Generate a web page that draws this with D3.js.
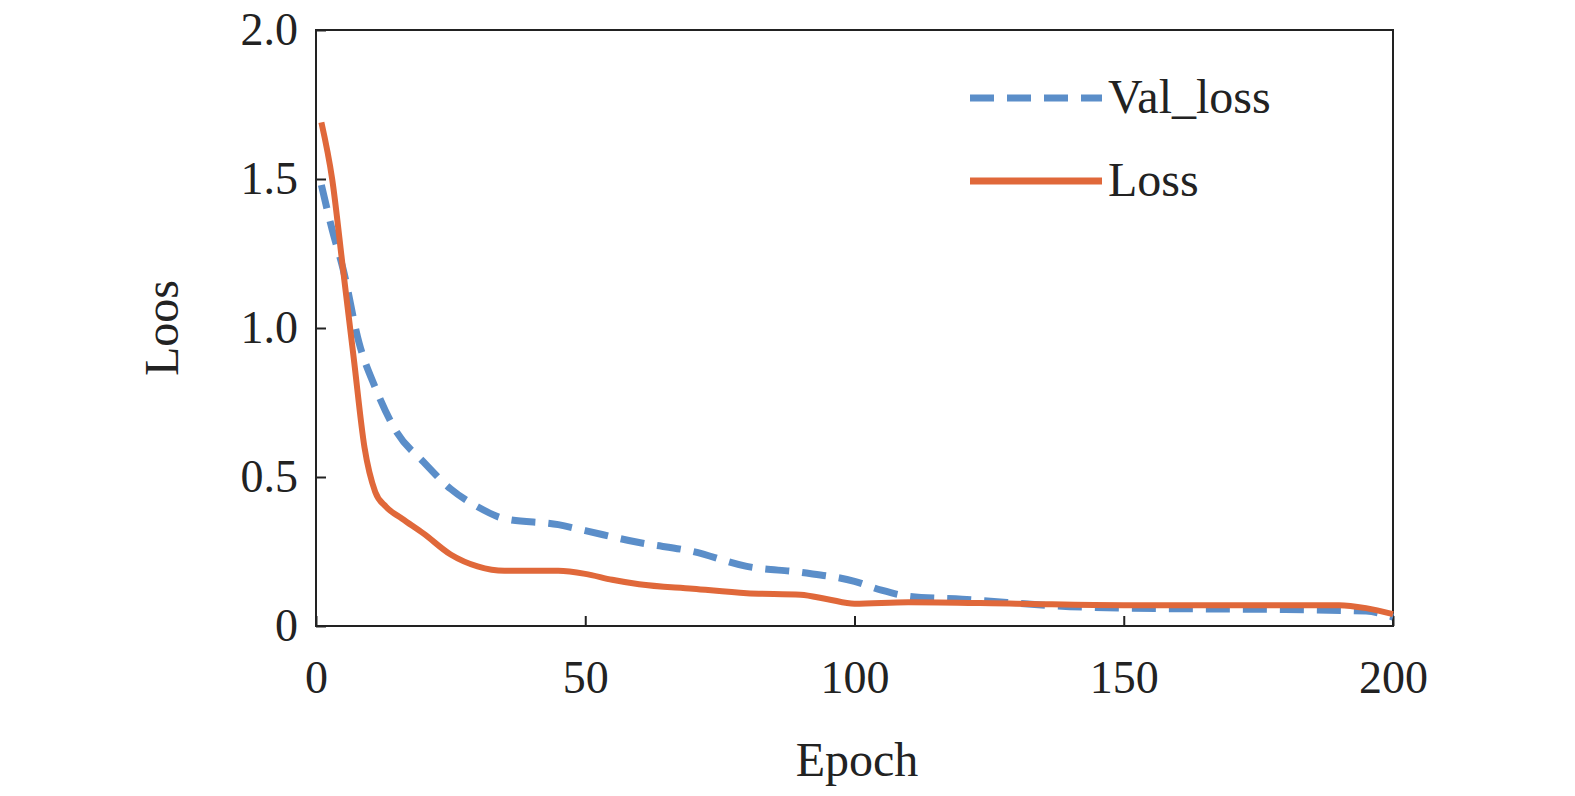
<!DOCTYPE html>
<html><head><meta charset="utf-8">
<script src="https://cdn.jsdelivr.net/npm/d3@7"></script>
<style>body{margin:0;background:#fff}text{font-family:"Liberation Serif",serif;fill:#222}</style>
</head><body><svg id="c" width="1575" height="796"></svg>
<script>
var lossEpoch = [1,3,5,7,9,11,13,16,20,25,30,35,45,50,55,60,70,80,90,95,100,110,130,150,190,195,200];
var lossVal   = [1.69,1.5,1.2,0.9,0.6,0.45,0.4,0.36,0.31,0.24,0.2,0.185,0.185,0.175,0.155,0.14,0.125,0.11,0.105,0.09,0.075,0.08,0.075,0.07,0.07,0.06,0.04];
var valEpoch  = [1,3,5,8,11,15,20,25,30,35,45,50,60,70,80,90,100,105,110,120,140,150,180,195,200];
var valLoss   = [1.48,1.33,1.2,0.95,0.8,0.65,0.55,0.46,0.4,0.36,0.34,0.32,0.28,0.25,0.2,0.18,0.15,0.12,0.1,0.09,0.065,0.06,0.055,0.05,0.03];
var xTicks = [0,50,100,150,200];
var yTicks = [0,0.5,1.0,1.5,2.0];
var yLabels = ["0","0.5","1.0","1.5","2.0"];

var svg = d3.select("#c");
var x = d3.scaleLinear().domain([0,200]).range([316,1393]);
var y = d3.scaleLinear().domain([0,2]).range([626,30]);

svg.append("rect").attr("x",316).attr("y",30).attr("width",1077).attr("height",596)
  .attr("fill","none").attr("stroke","#222").attr("stroke-width",2);

svg.append("g").attr("transform","translate(0,626)")
  .call(d3.axisBottom(x).tickValues(xTicks).tickSize(-10).tickPadding(34).tickFormat(d3.format("d")))
  .call(g=>{g.select(".domain").remove();g.selectAll("line").attr("stroke","#222").attr("stroke-width",2);
    g.selectAll("text").style("font-size","46px").style("font-family","Liberation Serif");});
svg.append("g").attr("transform","translate(316,0)")
  .call(d3.axisLeft(y).tickValues(yTicks).tickSize(-10).tickPadding(18).tickFormat((d,i)=>yLabels[i]))
  .call(g=>{g.select(".domain").remove();g.selectAll("line").attr("stroke","#222").attr("stroke-width",2);
    g.selectAll("text").style("font-size","46px").style("font-family","Liberation Serif");});

svg.append("text").attr("x",857).attr("y",776).attr("text-anchor","middle").style("font-size","48px").text("Epoch");
svg.append("text").attr("transform","translate(178,328) rotate(-90)").attr("text-anchor","middle").style("font-size","48px").text("Loos");

var line = d3.line().curve(d3.curveMonotoneX);
svg.append("path").attr("d",line(valEpoch.map((e,i)=>[x(e),y(valLoss[i])])))
  .attr("fill","none").attr("stroke","#5b8ec9").attr("stroke-width",7).attr("stroke-dasharray","24,13");
svg.append("path").attr("d",line(lossEpoch.map((e,i)=>[x(e),y(lossVal[i])])))
  .attr("fill","none").attr("stroke","#e0683a").attr("stroke-width",6);

var leg = [{n:"Val_loss",c:"#5b8ec9",d:"24,13",y:98},{n:"Loss",c:"#e0683a",d:null,y:181}];
leg.forEach(l=>{
  svg.append("line").attr("x1",970).attr("x2",1102).attr("y1",l.y).attr("y2",l.y)
    .attr("stroke",l.c).attr("stroke-width",7).attr("stroke-dasharray",l.d);
  svg.append("text").attr("x",1108).attr("y",l.y+15).style("font-size","48px").text(l.n);
});
</script></body></html>
